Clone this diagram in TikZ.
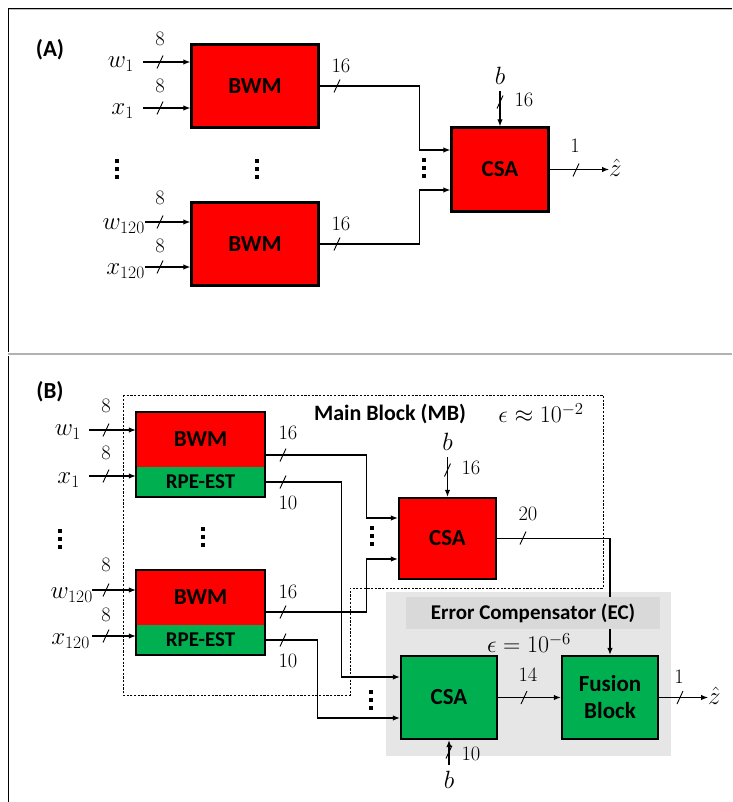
\RequirePackage{fix-cm}
\documentclass[tikz,border=0pt]{standalone}
\usepackage{fontspec}
\newfontfamily\cf{Carlito}
\usetikzlibrary{arrows.meta}
\definecolor{bred}{RGB}{255,0,0}
\definecolor{bgreen}{RGB}{0,176,80}
\definecolor{ecgray}{RGB}{230,230,230}
\definecolor{hdgray}{RGB}{217,217,217}
\tikzset{
  blk/.style={draw=black, line width=2.4pt, inner sep=0pt, font=\cf\bfseries\fontsize{23}{25}\selectfont},
  part/.style={inner sep=0pt, minimum width=129pt, font=\cf\bfseries\fontsize{23}{25}\selectfont},
  wire/.style={line width=1.1pt},
  arr/.style={wire, -{Latex[length=7pt,width=5.5pt]}},
  num/.style={font=\fontsize{20.5}{22}\selectfont, inner sep=0pt},
  var/.style={font=\fontsize{25}{27}\selectfont, inner sep=0pt},
  ttl/.style={font=\cf\bfseries\fontsize{21}{23}\selectfont, inner sep=0pt},
  slashmark/.pic={\draw[line width=0.9pt] (-3,6.5) -- (3,-6.5);},
  dotcol/.pic={\foreach \d in {-8,0,8} {\fill (-2,\d-2) rectangle (2,\d+2);}},
}
\begin{document}
\begin{tikzpicture}[x=1pt,y=-1pt]
\useasboundingbox[fill=white] (0,0) rectangle (732,802);
% frames
\draw[line width=2.5pt, black!30] (8,354) -- (732,354);
\draw[line width=1.5pt, black!25] (9,9.5) -- (732,9.5);
\draw[line width=0.8pt] (8,8) -- (732,8);
\draw[line width=0.8pt] (8,8) -- (8,352);
\draw[line width=0.8pt] (8,356) -- (8,802);

% ================= Panel A =================
\node[ttl, font=\cf\bfseries\fontsize{23}{25}\selectfont] (lA) at (50,50) {(A)};
\node[blk, fill=bred, minimum width=127pt, minimum height=83pt] (A1) at (255,86) {BWM};
\node[blk, fill=bred, minimum width=127pt, minimum height=83pt] (A2) at (255,244) {BWM};
\node[blk, fill=bred, minimum width=97pt, minimum height=84pt] (CA) at (500,169.5) {CSA};

\coordinate (iw1) at (143,62);
\coordinate (ix1) at (143,108);
\coordinate (iw2) at (145,222);
\coordinate (ix2) at (145,267);
\draw[arr] (iw1) -- (iw1 -| A1.west);
\draw[arr] (ix1) -- (ix1 -| A1.west);
\draw[arr] (iw2) -- (iw2 -| A2.west);
\draw[arr] (ix2) -- (ix2 -| A2.west);
\foreach \yy in {62,108,222,267} {\pic at (160,\yy) {slashmark};}
\node[num] (nA1) at (160,39) {$8$};
\node[num] (nA2) at (160,86) {$8$};
\node[num] (nA3) at (160,198) {$8$};
\node[num] (nA4) at (160,246) {$8$};
\node[var, anchor=east] (vw1) at (134,64) {$w_1$};
\node[var, anchor=east] (vx1) at (134,111) {$x_1$};
\node[var, anchor=east] (vw2) at (145,226) {$w_{120}$};
\node[var, anchor=east] (vx2) at (145,271) {$x_{120}$};
\pic at (117,169) {dotcol};
\pic at (257,169) {dotcol};
\pic at (424,168) {dotcol};

\draw[arr] (A1.east) -- ++(100,0) |- ([yshift=19.5pt]CA.west);
\draw[arr] (A2.east) -- ++(100,0) |- ([yshift=-20.5pt]CA.west);
\pic at (337,86) {slashmark};
\pic at (337,244) {slashmark};
\node[num] (nA5) at (341,66) {$16$};
\node[num] (nA6) at (341,224) {$16$};

\node[var] (bA) at (500,76) {$b$};
\draw[arr, shorten <=6pt] (bA) -- (CA);
\pic at (500,102) {slashmark};
\node[num] (nA7) at (524,100) {$16$};

\node[var, anchor=west] (zA) at (609,168) {$\hat{z}$};
\draw[arr] (CA.east) -- (CA.east -| zA.west);
\pic at (576,170) {slashmark};
\node[num] (nA8) at (575,146) {$1$};

% ================= Panel B =================
\node[ttl, font=\cf\bfseries\fontsize{23}{25}\selectfont] (lB) at (50,392) {(B)};
% EC background
\fill[ecgray] (386,592) rectangle (671,756);
% MB dashed outline
\draw[line width=0.7pt, dash pattern=on 2.2pt off 1.5pt] (123,395) -- (603,395) -- (603,588) -- (350,588) -- (350,695) -- (123,695) -- cycle;

\node[part, fill=bred, minimum height=55pt] (B1r) at (200.5,439.5) {BWM};
\node[part, fill=bgreen, minimum height=30pt, font=\cf\bfseries\fontsize{21}{23}\selectfont] (B1g) at (200.5,482) {RPE-EST};
\draw[line width=2.4pt] (B1r.north west) rectangle (B1g.south east);
\node[part, fill=bred, minimum height=55pt] (B2r) at (200.5,597.5) {BWM};
\node[part, fill=bgreen, minimum height=30pt, font=\cf\bfseries\fontsize{21}{23}\selectfont] (B2g) at (200.5,640) {RPE-EST};
\draw[line width=2.4pt] (B2r.north west) rectangle (B2g.south east);

\node[blk, fill=bred, minimum width=97pt, minimum height=81pt] (CR) at (447.5,538.5) {CSA};
\node[blk, fill=bgreen, minimum width=96pt, minimum height=83pt] (CG) at (449,697.5) {CSA};

% inputs
\coordinate (jw1) at (89,430);
\coordinate (jx1) at (89,476);
\coordinate (jw2) at (92,590);
\coordinate (jx2) at (92,636);
\draw[arr] (jw1) -- (jw1 -| B1r.west);
\draw[arr] (jx1) -- (jx1 -| B1r.west);
\draw[arr] (jw2) -- (jw2 -| B2r.west);
\draw[arr] (jx2) -- (jx2 -| B2r.west);
\foreach \yy in {430,476,590,636} {\pic at (106,\yy) {slashmark};}
\node[num] (nB1) at (106,406) {$8$};
\node[num] (nB2) at (106,453) {$8$};
\node[num] (nB3) at (106,565) {$8$};
\node[num] (nB4) at (106,615) {$8$};
\node[var, anchor=east] (uw1) at (81,432) {$w_1$};
\node[var, anchor=east] (ux1) at (80,480) {$x_1$};
\node[var, anchor=east] (uw2) at (93,595) {$w_{120}$};
\node[var, anchor=east] (ux2) at (90,641) {$x_{120}$};
\pic at (60,539) {dotcol};
\pic at (203,537) {dotcol};
\pic at (372,536) {dotcol};
\pic at (371,700) {dotcol};

% BWM / RPE outputs
\draw[arr] ([yshift=-15.5pt]B1r.east) -- ++(101,0) |- ([yshift=20.5pt]CR.west);
\draw[arr] (B1g.east) -- ++(76,0) |- ([yshift=20.5pt]CG.west);
\draw[arr] ([yshift=-14.5pt]B2r.east) -- ++(101,0) |- ([yshift=-20.5pt]CR.west);
\draw[arr] (B2g.east) -- ++(52,0) |- ([yshift=-20.5pt]CG.west);
\foreach \yy in {455,482,612,640} {\pic at (283,\yy) {slashmark};}
\node[num] (nB5) at (288,433) {$16$};
\node[num] (nB6) at (288,503) {$10$};
\node[num] (nB7) at (288,592) {$16$};
\node[num] (nB8) at (288,661) {$10$};

% b into red CSA
\node[var] (bB1) at (447.5,442) {$b$};
\draw[arr, shorten <=6pt] (bB1) -- (CR);
\pic at (447.5,470) {slashmark};
\node[num] (nB9) at (471,468) {$16$};

% fusion block
\node[blk, fill=bgreen, minimum width=96pt, minimum height=83pt, align=center, font=\cf\bfseries\fontsize{23}{27}\selectfont] (FB) at (610,697.5) {Fusion\\Block};
\draw[arr] (CR.east) -| (FB.north);
\pic at (523,538) {slashmark};
\node[num] (nB10) at (528,514) {$20$};

% EC header (covers the wire)
\node[fill=hdgray, minimum width=254pt, minimum height=32pt, inner sep=0pt] (ECh) at (533,613) {};
\node[ttl] (ECt) at (533,613) {Error Compensator (EC)};
\node[var, font=\fontsize{24}{26}\selectfont] (epsB) at (529,643) {$\epsilon = 10^{-6}$};

\node[ttl, font=\cf\bfseries\fontsize{22}{24}\selectfont] (MBt) at (390,414) {Main Block (MB)};
\node[var, font=\fontsize{24}{26}\selectfont] (epsA) at (541,413) {$\epsilon \approx 10^{-2}$};

\draw[arr] (CG) -- (FB);
\pic at (524,697.5) {slashmark};
\node[num] (nB11) at (528,675) {$14$};

\node[var, anchor=west] (zB) at (708,695.5) {$\hat{z}$};
\draw[arr] (FB.east) -- (FB.east -| zB.west);
\pic at (680,697.5) {slashmark};
\node[num] (nB12) at (679,677) {$1$};

\node[var] (bB2) at (449,780) {$b$};
\draw[arr, shorten <=6pt] (bB2) -- (CG);
\pic at (449,752) {slashmark};
\node[num] (nB13) at (471,754) {$10$};
\end{tikzpicture}
\end{document}
